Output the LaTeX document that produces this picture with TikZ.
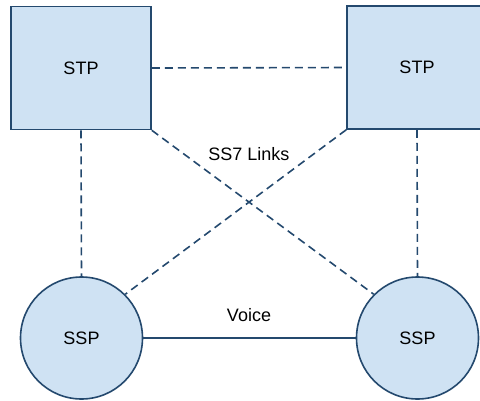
\documentclass[tikz,border=0pt]{standalone}
\usepackage{fontspec}
\setmainfont{Liberation Sans}
\definecolor{linkblue}{HTML}{24496E}
\definecolor{nodefill}{HTML}{CFE2F3}
\begin{document}
\begin{tikzpicture}[x=1pt,y=-1pt,
  font=\fontsize{18}{21}\selectfont,
  stpbox/.style={draw=linkblue,fill=nodefill,line width=1.6pt,minimum width=140pt,minimum height=123pt,inner sep=0pt},
  sspnode/.style={circle,draw=linkblue,fill=nodefill,line width=1.6pt,minimum size=122pt,inner sep=0pt},
  sslink/.style={draw=linkblue,line width=1.6pt,dash pattern=on 8pt off 5pt},
  voicelink/.style={draw=linkblue,line width=1.6pt}]
  \useasboundingbox (0,0) rectangle (480,400);
  \clip (0,0) rectangle (480,400);
  % signalling points
  \node[stpbox] (stpL) at (81,68) {STP};
  \node[stpbox] (stpR) at (417,67.5) {STP};
  \node[sspnode] (sspL) at (81.5,338) {SSP};
  \node[sspnode] (sspR) at (417.5,338) {SSP};
  % SS7 links
  \draw[sslink] (stpL.east) -- (stpR.west);
  \draw[sslink] (stpL.south) -- (sspL.north);
  \draw[sslink] (stpR.south) -- (sspR.north);
  \draw[sslink] (stpL.south east) -- (sspR.north west);
  \draw[sslink] (stpR.south west) -- (sspL.north east);
  % voice trunk
  \draw[voicelink] (sspL.east) -- (sspR.west);
  % labels
  \node (ss7) at (249,154) {SS7 Links};
  \node (voice) at (249,315) {Voice};
\end{tikzpicture}
\end{document}
